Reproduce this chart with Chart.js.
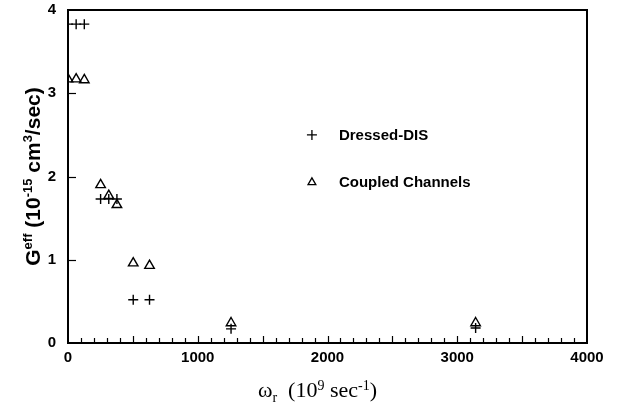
<!DOCTYPE html>
<html>
<head>
<meta charset="utf-8">
<script src="https://cdn.jsdelivr.net/npm/chart.js@4/dist/chart.umd.min.js"></script>
<style>
  html, body { margin: 0; padding: 0; background: #fff; }
  #wrap { width: 618px; height: 412px; position: relative; }
</style>
</head>
<body>
<div id="wrap"><canvas id="c" width="618" height="412"></canvas></div>
<script>
// Rotation frequency omega_r (10^9 sec^-1)
const omegaR = [0, 62.8, 125.7, 251.3, 314.2, 377.0, 502.7, 628.3, 1256.6, 3141.6];
// G_eff (10^-15 cm^3/sec), dressed-DIS model
const dressedDIS = [3.83, 3.83, 3.83, 1.73, 1.73, 1.73, 0.52, 0.52, 0.17, 0.18];
// G_eff (10^-15 cm^3/sec), coupled-channels model
const coupledChannels = [3.17, 3.17, 3.16, 1.90, 1.77, 1.66, 0.96, 0.93, 0.24, 0.24];
const seriesNames = ['Dressed-DIS', 'Coupled Channels'];
const xTicks = [0, 1000, 2000, 3000, 4000];
const yTicks = [0, 1, 2, 3, 4];

const toPoints = ys => omegaR.map((x, i) => ({ x: x, y: ys[i] }));

const tickFont = { family: 'Liberation Sans, Arial, sans-serif', size: 15, weight: 'bold' };

// Draws a run of text pieces, some raised (superscript) or lowered (subscript)
function drawRich(ctx, parts, x, y, baseFont, smallFont, align) {
  let total = 0;
  parts.forEach(p => {
    ctx.font = p.s ? smallFont : baseFont;
    p.w = ctx.measureText(p.t).width;
    total += p.w;
  });
  let cx = align === 'center' ? x - total / 2 : x;
  parts.forEach(p => {
    ctx.font = p.s ? smallFont : baseFont;
    ctx.fillText(p.t, cx, y + (p.s || 0));
    cx += p.w;
  });
}

const framePlugin = {
  id: 'frame',
  afterDatasetsDraw(chart) {
    const { ctx, chartArea: a, scales } = chart;
    ctx.save();
    ctx.strokeStyle = '#000';
    // plot box
    ctx.lineWidth = 2;
    ctx.strokeRect(a.left, a.top, a.right - a.left, a.bottom - a.top);
    // inward ticks on the bottom axis, every 100
    ctx.lineWidth = 1.2;
    for (let v = 100; v < 4000; v += 100) {
      const px = Math.round(scales.x.getPixelForValue(v)) + 0.5;
      const len = (v % 500 === 0) ? 7 : 5;
      ctx.beginPath();
      ctx.moveTo(px, a.bottom);
      ctx.lineTo(px, a.bottom - len);
      ctx.stroke();
    }
    // inward ticks on the left axis
    [1, 2, 3].forEach(v => {
      const py = Math.round(scales.y.getPixelForValue(v)) + 0.5;
      ctx.beginPath();
      ctx.moveTo(a.left, py);
      ctx.lineTo(a.left + 8, py);
      ctx.stroke();
    });

    // legend inside the plot
    const dsets = chart.data.datasets;
    const lx = scales.x.getPixelForValue(1880);
    const ly = [scales.y.getPixelForValue(2.50), scales.y.getPixelForValue(1.93)];
    ctx.textBaseline = 'middle';
    ctx.textAlign = 'left';
    dsets.forEach((d, i) => {
      ctx.fillStyle = 'rgba(0,0,0,0)';
      ctx.strokeStyle = '#000';
      ctx.lineWidth = 1.3;
      Chart.helpers.drawPoint(ctx, {
        pointStyle: d.pointStyle, radius: d.pointStyle === 'triangle' ? 4.5 : d.pointRadius,
        borderWidth: 1.3, rotation: 0
      }, lx, ly[i]);
      ctx.fillStyle = '#000';
      ctx.font = 'bold 15px Liberation Sans, Arial, sans-serif';
      ctx.fillText(seriesNames[i], lx + 27, ly[i] + 1);
    });

    // axis titles
    ctx.fillStyle = '#000';
    ctx.textBaseline = 'alphabetic';
    ctx.textAlign = 'left';
    const xc = (a.left + a.right) / 2 - 10;
    drawRich(ctx, [
      { t: 'ω' }, { t: 'r', s: 5 }, { t: '  (10' }, { t: '9', s: -7 },
      { t: ' sec' }, { t: '-1', s: -7 }, { t: ')' }
    ], xc, 397, '22px Liberation Serif, Times New Roman, serif',
       '14px Liberation Serif, Times New Roman, serif', 'center');

    ctx.translate(40, (a.top + a.bottom) / 2);
    ctx.rotate(-Math.PI / 2);
    drawRich(ctx, [
      { t: 'G' }, { t: 'eff', s: -8 }, { t: ' (10' }, { t: '-15', s: -8 },
      { t: ' cm' }, { t: '3', s: -8 }, { t: '/sec)' }
    ], 0, 0, 'bold 21px Liberation Sans, Arial, sans-serif',
       'bold 13px Liberation Sans, Arial, sans-serif', 'center');
    ctx.restore();
  }
};

new Chart(document.getElementById('c'), {
  type: 'scatter',
  data: {
    datasets: [
      {
        label: seriesNames[0],
        data: toPoints(dressedDIS),
        pointStyle: 'cross',
        pointRadius: 5,
        borderColor: '#000',
        backgroundColor: 'rgba(0,0,0,0)',
        pointBorderWidth: 1.4
      },
      {
        label: seriesNames[1],
        data: toPoints(coupledChannels),
        pointStyle: 'triangle',
        pointRadius: 5.5,
        borderColor: '#000',
        backgroundColor: 'rgba(0,0,0,0)',
        pointBorderWidth: 1.4
      }
    ]
  },
  options: {
    responsive: false,
    animation: false,
    events: [],
    layout: { padding: { left: 0, right: 31, top: 10, bottom: 0 } },
    plugins: { legend: { display: false }, tooltip: { enabled: false } },
    scales: {
      x: {
        type: 'linear', min: 0, max: 4000,
        afterFit: s => { s.height = 69; s.paddingLeft = 0; s.paddingRight = 0; },
        afterBuildTicks: s => { s.ticks = xTicks.map(v => ({ value: v })); },
        grid: { display: false, drawTicks: false },
        border: { display: false },
        ticks: { color: '#000', font: tickFont, padding: 6, maxRotation: 0,
                 callback: v => String(v) }
      },
      y: {
        type: 'linear', min: 0, max: 4,
        afterFit: s => { s.width = 68; s.paddingTop = 0; s.paddingBottom = 0; },
        afterBuildTicks: s => { s.ticks = yTicks.map(v => ({ value: v })); },
        grid: { display: false, drawTicks: false },
        border: { display: false },
        ticks: { color: '#000', font: tickFont, padding: 12,
                 callback: v => String(v) }
      }
    }
  },
  plugins: [framePlugin]
});
</script>
</body>
</html>
